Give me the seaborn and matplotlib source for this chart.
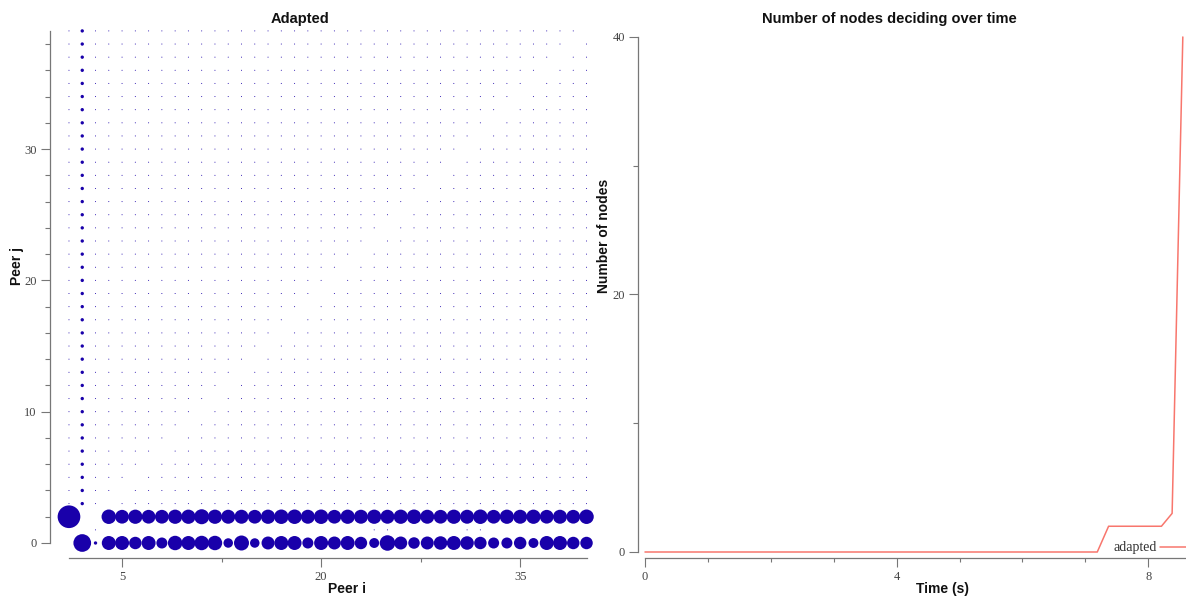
import matplotlib
matplotlib.use("Agg")
import matplotlib.pyplot as plt
import pandas as pd
import seaborn as sns
from matplotlib.ticker import FixedLocator

# ---------------- data ----------------
peer_i = list(range(1, 41))
peer_j = list(range(0, 40))

# message counts exchanged between peers (dot area is proportional to count)
row0_peers = list(range(4, 41))
row0_counts = [87, 87, 69, 87, 54, 93, 87, 93, 93, 40, 100, 40, 75, 87,
               87, 54, 87, 75, 87, 69, 44, 107, 75, 59, 75, 81, 87, 81,
               69, 54, 54, 69, 44, 87, 87, 69, 69]
row2_peers = list(range(4, 41))
row2_counts = [93, 84, 90, 84, 84, 90, 90, 100, 90, 87, 87, 84, 90, 93,
               93, 87, 93, 84, 90, 87, 90, 87, 90, 93, 87, 84, 90, 87,
               93, 84, 90, 87, 90, 84, 87, 84, 93]
hub_peer = 2
hub_rows = list(range(3, 40))
hub_count = 5
special_cells = {(1, 2): 229, (2, 0): 139, (3, 0): 5}
row1_peers = [3, 24, 25, 31, 32]
background_count = 0.45

# decisions over time
time_s = [0.0, 7.19, 7.37, 8.21, 8.38, 8.55]
nodes_deciding = [0, 0, 2, 2, 3, 40]

# ---------------- build the peer table ----------------
cells = {}
for j in peer_j:
    for i in peer_i:
        if i == j + 1 or i == hub_peer:
            continue
        if j == 1 and i not in row1_peers:
            continue
        cells[(i, j)] = background_count
for j in hub_rows:
    cells[(hub_peer, j)] = hub_count
for i, c in zip(row0_peers, row0_counts):
    cells[(i, 0)] = c
for i, c in zip(row2_peers, row2_counts):
    cells[(i, 2)] = c
cells.update(special_cells)

df = pd.DataFrame([(i, j, c) for (i, j), c in cells.items()],
                  columns=["peer_i", "peer_j", "count"])
df = df.sort_values("count", kind="stable")

# ---------------- style ----------------
sns.set_theme(style="ticks")
plt.rcParams["font.family"] = ["Liberation Serif", "DejaVu Serif"]

W, H = 1186, 597
fig = plt.figure(figsize=(W / 100, H / 100), dpi=100)


def box(x0, x1, ytop, ybot):
    return [x0 / W, 1 - ybot / H, (x1 - x0) / W, (ybot - ytop) / H]


def to_axes(ax, px, py):
    return ax.transAxes.inverted().transform((px, H - py))


SPINE = "#777777"
TICKLBL = "#444444"
label_font = dict(family="Liberation Sans", weight="bold", size=10, color="#111111")
title_font = dict(family="Liberation Sans", weight="bold", size=10.5, color="#111111")


def style_axes(ax, minor_x_len, minor_y_len):
    for side in ("top", "right"):
        ax.spines[side].set_visible(False)
    for side in ("left", "bottom"):
        ax.spines[side].set_color(SPINE)
        ax.spines[side].set_linewidth(0.9)
    ax.tick_params(which="major", length=6.5, width=0.8, color=SPINE,
                   labelsize=9, labelcolor=TICKLBL, pad=3)
    ax.tick_params(axis="x", which="minor", length=minor_x_len, width=0.8, color=SPINE)
    ax.tick_params(axis="y", which="minor", length=minor_y_len, width=0.8, color=SPINE)
    ax.grid(False)


# ---------------- left: peer matrix ----------------
ax1 = fig.add_axes(box(50, 599.8, 20.4, 558.1))
max_count = max(df["count"])
sns.scatterplot(data=df, x="peer_i", y="peer_j", size="count",
                sizes=(0, 267), size_norm=(0, max_count),
                color="#1900aa", linewidth=0, edgecolor="none",
                legend=False, ax=ax1)
ax1.set_xlim(-0.43, 41.0)
ax1.set_ylim(-1.15, 39.8)
ax1.xaxis.set_major_locator(FixedLocator([5, 20, 35]))
ax1.xaxis.set_minor_locator(FixedLocator([12.5, 27.5]))
ax1.yaxis.set_major_locator(FixedLocator([0, 10, 20, 30]))
ax1.yaxis.set_minor_locator(FixedLocator([v for v in range(2, 40, 2) if v % 10]))
style_axes(ax1, 2.9, 3.6)
ax1.spines["bottom"].set_bounds(1, 40)
ax1.spines["left"].set_bounds(0, 39)

ax1.set_xlabel("Peer i", **label_font)
ax1.set_ylabel("Peer j", **label_font)
ax1.xaxis.set_label_coords(*to_axes(ax1, 347, 589))
ax1.yaxis.set_label_coords(*to_axes(ax1, 17, 266))
ax1.xaxis.label.set_va("center")
ax1.yaxis.label.set_va("center")
tx, ty = to_axes(ax1, 300, 19)
ax1.set_title("Adapted", x=tx, y=ty, pad=0, va="center", **title_font)

# ---------------- right: decisions over time ----------------
ax2 = fig.add_axes(box(638, 1195.4, 24.1, 558))
sns.lineplot(x=time_s, y=nodes_deciding, color="#F8766D", linewidth=1.1,
             label="adapted", ax=ax2)
ax2.set_xlim(-0.111, 8.75)
ax2.set_ylim(-0.466, 41)
ax2.xaxis.set_major_locator(FixedLocator([0, 4, 8]))
ax2.xaxis.set_minor_locator(FixedLocator([1, 2, 3, 5, 6, 7]))
ax2.yaxis.set_major_locator(FixedLocator([0, 20, 40]))
ax2.yaxis.set_minor_locator(FixedLocator([10, 30]))
style_axes(ax2, 2.9, 3.6)
ax2.spines["bottom"].set_bounds(0, 8.75)
ax2.spines["left"].set_bounds(0, 40)

ax2.set_xlabel("Time (s)", **label_font)
ax2.set_ylabel("Number of nodes", **label_font)
ax2.xaxis.set_label_coords(*to_axes(ax2, 942, 589))
ax2.yaxis.set_label_coords(*to_axes(ax2, 604, 236))
ax2.xaxis.label.set_va("center")
ax2.yaxis.label.set_va("center")
tx, ty = to_axes(ax2, 889, 19)
ax2.set_title("Number of nodes deciding over time", x=tx, y=ty, pad=0,
              va="center", **title_font)

leg = ax2.legend(loc="center left", bbox_to_anchor=(1113 / W, 1 - 548 / H),
                 bbox_transform=fig.transFigure, frameon=False, markerfirst=False,
                 handletextpad=0.25, borderpad=0, borderaxespad=0,
                 handlelength=2.2, prop={"family": "Liberation Serif", "size": 10})
for t in leg.get_texts():
    t.set_color("#333333")

fig.savefig("out.png", dpi=100)
